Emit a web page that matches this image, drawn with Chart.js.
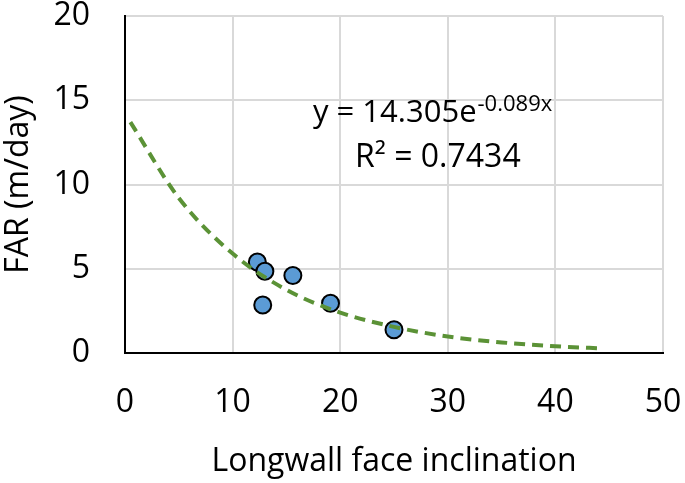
<!DOCTYPE html>
<html>
<head>
<meta charset="utf-8">
<script src="https://cdn.jsdelivr.net/npm/chart.js@4"></script>
<style>
  html, body { margin: 0; padding: 0; background: #fff; }
  #wrap { width: 685px; height: 483px; }
</style>
</head>
<body>
<div id="wrap"><canvas id="myChart" width="685" height="483"></canvas></div>
<script>
// measured points (face inclination, FAR)
var inclination = [12.3, 13.0, 12.8, 15.6, 19.1, 25.0]
var far = [5.4, 4.85, 2.85, 4.6, 2.95, 1.38]

// dashed trendline
var trendX = [0.5, 5, 10, 15, 20, 25, 30, 35, 40, 44.5]
var trendY = [13.7, 9.2, 5.9, 3.75, 2.4, 1.55, 0.98, 0.63, 0.4, 0.27]

var xTicks = [0, 10, 20, 30, 40, 50]
var yTicks = [0, 5, 10, 15, 20]

var FONT = "'Open Sans', sans-serif"

function pairs(xs, ys) {
    var out = []
    for (var i = 0; i < xs.length; i++) out.push({x: xs[i], y: ys[i]})
    return out
}

// equation label like excel's trendline label
var equationLabel = {
    id: 'equationLabel',
    afterDatasetsDraw: function(chart) {
        var ctx = chart.ctx
        ctx.save()
        ctx.fillStyle = '#000'
        ctx.textBaseline = 'alphabetic'
        ctx.textAlign = 'left'
        var x1 = 313, y1 = 122
        ctx.font = '31px ' + FONT
        var main = 'y = 14.305e'
        ctx.fillText(main, x1, y1)
        var w = ctx.measureText(main).width
        ctx.font = '22px ' + FONT
        ctx.fillText('-0.089x', x1 + w + 1, y1 - 11)

        ctx.font = '32px ' + FONT
        ctx.fillText('R\u00B2 = 0.7434', 355, 167)
        ctx.restore()
    }
}

var ctx = document.getElementById('myChart').getContext('2d')
var chart = new Chart(ctx, {
    type: 'scatter',
    data: {
        datasets: [{
            label: 'trend',
            type: 'line',
            data: pairs(trendX, trendY),
            borderColor: '#5b9236',
            borderWidth: 4,
            borderDash: [11, 7],
            pointRadius: 0,
            fill: false,
            cubicInterpolationMode: 'monotone',
            order: 0
        }, {
            label: 'FAR',
            data: pairs(inclination, far),
            backgroundColor: '#5b9bd5',
            borderColor: '#000',
            borderWidth: 2,
            pointRadius: 8.5,
            order: 1
        }]
    },
    options: {
        responsive: false,
        animation: false,
        layout: { padding: { left: 0, top: 15, right: 22, bottom: 0 } },
        plugins: { legend: { display: false }, tooltip: { enabled: false } },
        scales: {
            x: {
                type: 'linear',
                min: 0, max: 50,
                afterBuildTicks: function(s) { s.ticks = xTicks.map(function(v) { return {value: v} }) },
                afterFit: function(s) { s.height = 130 },
                grid: { color: '#d9d9d9', lineWidth: 2, drawTicks: true, tickLength: 34, tickColor: 'rgba(0,0,0,0)' },
                border: { color: '#000', width: 2 },
                ticks: { color: '#000', font: { family: FONT, size: 32, lineHeight: 1 }, padding: 0 },
                title: { display: true, text: 'Longwall face inclination', color: '#000',
                         font: { family: FONT, size: 32 }, padding: { top: 0, bottom: 2 } }
            },
            y: {
                min: 0, max: 20,
                afterBuildTicks: function(s) { s.ticks = yTicks.map(function(v) { return {value: v} }) },
                afterFit: function(s) { s.width = 125 },
                grid: { color: '#d9d9d9', lineWidth: 2, drawTicks: true, tickLength: 35, tickColor: 'rgba(0,0,0,0)' },
                border: { color: '#000', width: 2 },
                ticks: { color: '#000', font: { family: FONT, size: 32, lineHeight: 1 }, padding: 0 },
                title: { display: true, text: 'FAR (m/day)', color: '#000',
                         font: { family: FONT, size: 32 }, padding: { top: 0, bottom: 0 } }
            }
        }
    },
    plugins: [equationLabel]
})
</script>
</body>
</html>
